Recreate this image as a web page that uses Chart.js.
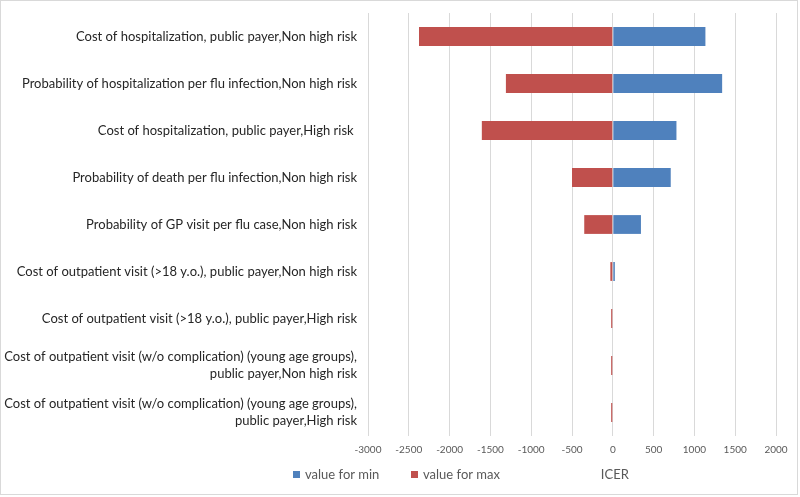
<!doctype html>
<html>
<head>
<meta charset="utf-8" />
<title>ICER tornado</title>
<script src="https://cdn.jsdelivr.net/npm/chart.js"></script>
<style>
  html, body { margin: 0; padding: 0; background: #fff; }
  #wrap { width: 800px; height: 497px; position: relative; }
</style>
</head>
<body>
<div id="wrap"><canvas id="c" width="800" height="497"></canvas></div>
<script>
// Parameter (Kategorien, oben nach unten)
const categories = [
  "Cost of hospitalization, public payer,Non high risk",
  "Probability of hospitalization per flu infection,Non high risk",
  "Cost of hospitalization, public payer,High risk ",
  "Probability of death per flu infection,Non high risk",
  "Probability of GP visit per flu case,Non high risk",
  "Cost of outpatient visit (>18 y.o.), public payer,Non high risk",
  "Cost of outpatient visit (>18 y.o.), public payer,High risk",
  ["Cost of outpatient visit (w/o complication) (young age groups),", "public payer,Non high risk"],
  ["Cost of outpatient visit (w/o complication) (young age groups),", "public payer,High risk"]
];

// ICER-Werte
const valueForMin = [1135, 1340, 780, 710, 345, 25, 0, 0, 0];
const valueForMax = [-2375, -1310, -1605, -500, -350, -30, -20, -20, -20];

// Achse
const xMin = -3000, xMax = 2000, xStep = 500;
const axisTitle = "ICER";

const BLUE = "#4F81BD", RED = "#C0504D";

// Legende + Achsentitel + Rahmen selbst zeichnen (gleiche Zeile wie im Original)
const bottomRow = {
  id: "bottomRow",
  afterDraw(chart) {
    const ctx = chart.ctx;
    ctx.save();
    ctx.strokeStyle = "#d9d9d9";
    ctx.lineWidth = 1;
    ctx.strokeRect(0.5, 0.5, 797, 494);

    ctx.font = "13px Lato";
    ctx.fillStyle = "#595959";
    ctx.textBaseline = "middle";
    const y = 475;
    let x = 293;
    chart.data.datasets.forEach(ds => {
      ctx.fillStyle = ds.backgroundColor;
      ctx.fillRect(x, y - 4, 7, 7);
      ctx.fillStyle = "#595959";
      ctx.textAlign = "left";
      ctx.fillText(ds.label, x + 12, y);
      x += 118;
    });

    const xs = chart.scales.x;
    ctx.textAlign = "center";
    ctx.fillText(axisTitle, xs.getPixelForValue(0) + 2, y);
    ctx.restore();
  }
};

new Chart(document.getElementById("c").getContext("2d"), {
  type: "bar",
  data: {
    labels: categories,
    datasets: [
      { label: "value for min", data: valueForMin, backgroundColor: BLUE, barPercentage: 0.5, categoryPercentage: 0.8 },
      { label: "value for max", data: valueForMax, backgroundColor: RED, barPercentage: 0.5, categoryPercentage: 0.8 }
    ]
  },
  plugins: [bottomRow],
  options: {
    indexAxis: "y",
    responsive: false,
    animation: false,
    layout: { padding: { top: 13, right: 24, bottom: 0, left: 0 } },
    plugins: { legend: { display: false }, tooltip: { enabled: false } },
    scales: {
      x: {
        stacked: true,
        min: xMin, max: xMax,
        ticks: { stepSize: xStep, color: "#595959", font: { family: "Lato", size: 10 }, padding: 8, callback: v => String(v) },
        grid: { color: "#d9d9d9", lineWidth: 1, drawTicks: false },
        border: { display: false },
        afterFit: s => { s.height = 61; }
      },
      y: {
        stacked: true,
        ticks: { color: "#262626", font: { family: "Lato", size: 13, lineHeight: 1.3 }, padding: 3, autoSkip: false },
        grid: { display: false },
        border: { display: false },
        afterFit: s => { s.width = 368; s.paddingTop = 0; s.paddingBottom = 0; }
      }
    }
  }
});
</script>
</body>
</html>
